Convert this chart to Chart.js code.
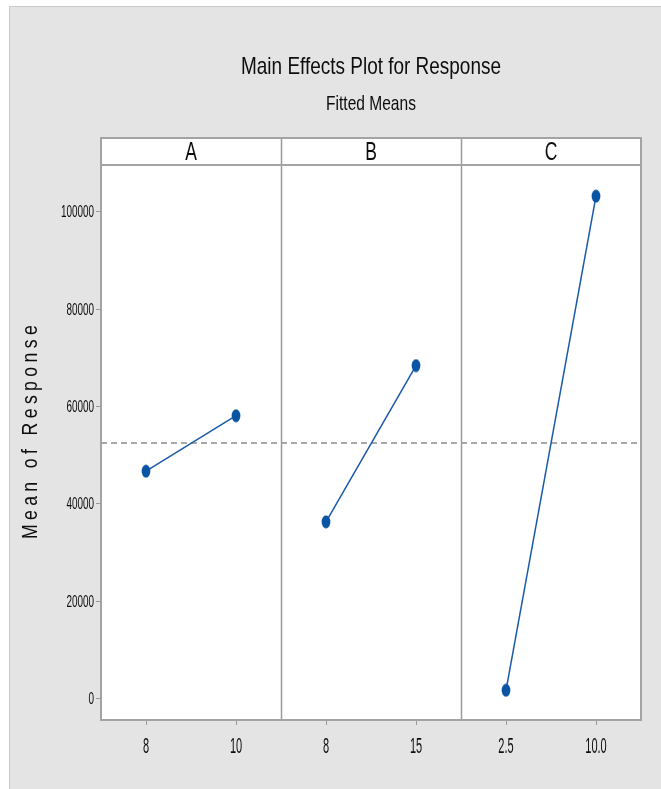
<!DOCTYPE html>
<html>
<head>
<meta charset="utf-8">
<title>Main Effects Plot for Response</title>
<script src="https://cdn.jsdelivr.net/npm/chart.js@4.4.1/dist/chart.umd.min.js"></script>
<style>
  html, body { margin: 0; padding: 0; background: #ffffff; }
  #wrap { width: 661px; height: 789px; }
</style>
</head>
<body>
<div id="wrap"><canvas id="plot" width="661" height="789"></canvas></div>
<script>
// Factors and their levels
const factorNames = ['A', 'B', 'C'];
const levelLabels = ['8', '10', '8', '15', '2.5', '10.0'];

// Fitted means of the response at each level
const meansA = [46700, 58100];
const meansB = [36300, 68400];
const meansC = [1700, 103200];
const overallMean = 52500;

// Y axis tick values
const yTickValues = [0, 20000, 40000, 60000, 80000, 100000];

const titleText = 'Main Effects Plot for Response';
const subtitleText = 'Fitted Means';
const yTitleText = 'Mean of Response';

const seriesMeans = [meansA, meansB, meansC];

const FONT = "'Liberation Sans', Arial, sans-serif";
const TEXT_COLOR = '#0d0d0d';
const FRAME_COLOR = '#a3a3a3';
const MARK_COLOR = '#0a54a4';
const LINE_COLOR = '#1a5aab';

// Tall, narrow marker used for each fitted mean
function makeMarker() {
  const c = document.createElement('canvas');
  c.width = 10; c.height = 14;
  const g = c.getContext('2d');
  g.fillStyle = MARK_COLOR;
  g.beginPath();
  g.ellipse(5, 7, 4.4, 6.5, 0, 0, Math.PI * 2);
  g.fill();
  return c;
}
const marker = makeMarker();

// Text drawn with a horizontal squeeze (condensed look)
function squeezedText(ctx, text, x, y, size, sx, align) {
  ctx.save();
  ctx.translate(x, y);
  ctx.scale(sx, 1);
  ctx.font = size + 'px ' + FONT;
  ctx.fillStyle = TEXT_COLOR;
  ctx.textAlign = align;
  ctx.textBaseline = 'alphabetic';
  ctx.fillText(text, 0, 0);
  ctx.restore();
}

const HEADER_H = 27;

const decor = {
  id: 'decor',
  beforeDraw(chart) {
    const ctx = chart.ctx;
    const a = chart.chartArea;
    ctx.save();
    ctx.fillStyle = '#ffffff';
    ctx.fillRect(0, 0, chart.width, chart.height);
    ctx.fillStyle = '#e4e4e4';
    ctx.fillRect(9, 6, chart.width - 9, chart.height - 6);
    ctx.strokeStyle = '#c9c9c9';
    ctx.lineWidth = 1;
    ctx.beginPath();
    ctx.moveTo(9.5, chart.height);
    ctx.lineTo(9.5, 6.5);
    ctx.lineTo(chart.width, 6.5);
    ctx.stroke();
    // plot area and strip header
    ctx.fillStyle = '#ffffff';
    ctx.fillRect(a.left, a.top - HEADER_H, a.right - a.left, a.bottom - a.top + HEADER_H);
    ctx.restore();
  },
  beforeDatasetsDraw(chart) {
    const ctx = chart.ctx;
    const a = chart.chartArea;
    const xs = chart.scales.x;
    const ys = chart.scales.y;
    ctx.save();
    // overall mean reference line
    const ym = ys.getPixelForValue(overallMean);
    ctx.strokeStyle = '#8c8c8c';
    ctx.lineWidth = 1.5;
    ctx.setLineDash([6, 4]);
    ctx.beginPath();
    ctx.moveTo(a.left, ym);
    ctx.lineTo(a.right, ym);
    ctx.stroke();
    ctx.setLineDash([]);
    // panel dividers
    ctx.strokeStyle = '#9a9a9a';
    ctx.lineWidth = 1.5;
    for (let i = 1; i < factorNames.length; i++) {
      const px = Math.round(xs.getPixelForValue(2 * i)) + 0.5;
      ctx.beginPath();
      ctx.moveTo(px, a.top - HEADER_H);
      ctx.lineTo(px, a.bottom);
      ctx.stroke();
    }
    // frame around plot and header strip
    ctx.strokeStyle = FRAME_COLOR;
    ctx.lineWidth = 2;
    ctx.strokeRect(a.left, a.top - HEADER_H, a.right - a.left, a.bottom - a.top + HEADER_H);
    ctx.beginPath();
    ctx.moveTo(a.left, a.top);
    ctx.lineTo(a.right, a.top);
    ctx.stroke();
    ctx.restore();
  },
  afterDraw(chart) {
    const ctx = chart.ctx;
    const a = chart.chartArea;
    const xs = chart.scales.x;
    const ys = chart.scales.y;
    const cx = (a.left + a.right) / 2;
    // titles
    squeezedText(ctx, titleText, cx, 74, 24, 0.79, 'center');
    squeezedText(ctx, subtitleText, cx, 110, 21, 0.74, 'center');
    // strip labels
    factorNames.forEach((name, i) => {
      const px = xs.getPixelForValue(2 * i + 1);
      squeezedText(ctx, name, px, a.top - 5, 25, 0.7, 'center');
    });
    // y tick labels
    ys.ticks.forEach(t => {
      const py = ys.getPixelForValue(t.value);
      squeezedText(ctx, String(t.value), a.left - 7, py + 5.5, 16, 0.62, 'right');
    });
    // x tick labels
    xs.ticks.forEach((t, i) => {
      const px = xs.getPixelForValue(t.value);
      squeezedText(ctx, levelLabels[i], px, a.bottom + 33, 22, 0.5, 'center');
    });
    // y axis title: condensed glyphs, wide letter spacing
    ctx.save();
    ctx.translate(37, 430);
    ctx.rotate(-Math.PI / 2);
    ctx.scale(0.8, 1);
    ctx.font = '22px ' + FONT;
    ctx.fillStyle = TEXT_COLOR;
    ctx.textAlign = 'center';
    ctx.textBaseline = 'alphabetic';
    ctx.letterSpacing = '5.5px';
    ctx.fillText(yTitleText, 0, 0);
    ctx.restore();
  }
};

new Chart(document.getElementById('plot'), {
  type: 'line',
  data: {
    datasets: seriesMeans.map((vals, i) => ({
      label: factorNames[i],
      data: vals.map((v, j) => ({ x: 2 * i + j + 0.5, y: v })),
      borderColor: LINE_COLOR,
      borderWidth: 1.5,
      backgroundColor: MARK_COLOR,
      pointStyle: marker,
      pointRadius: 5,
      pointHoverRadius: 5,
      tension: 0,
      fill: false
    }))
  },
  options: {
    responsive: false,
    animation: false,
    events: [],
    layout: { padding: { top: 165, right: 20, left: 0, bottom: 0 } },
    plugins: {
      legend: { display: false },
      tooltip: { enabled: false },
      title: { display: false }
    },
    scales: {
      x: {
        type: 'linear',
        min: 0,
        max: 6,
        afterBuildTicks: s => { s.ticks = levelLabels.map((_, k) => ({ value: k + 0.5 })); },
        ticks: { display: false },
        grid: { drawOnChartArea: false, drawTicks: true, tickLength: 5, color: '#9a9a9a' },
        border: { display: false },
        afterFit: s => { s.height = 69; }
      },
      y: {
        type: 'linear',
        min: -4400,
        max: 109600,
        afterBuildTicks: s => { s.ticks = yTickValues.map(v => ({ value: v })); },
        ticks: { display: false },
        grid: { drawOnChartArea: false, drawTicks: true, tickLength: 5, color: '#9a9a9a' },
        border: { display: false },
        afterFit: s => { s.width = 101; }
      }
    }
  },
  plugins: [decor]
});
</script>
</body>
</html>
